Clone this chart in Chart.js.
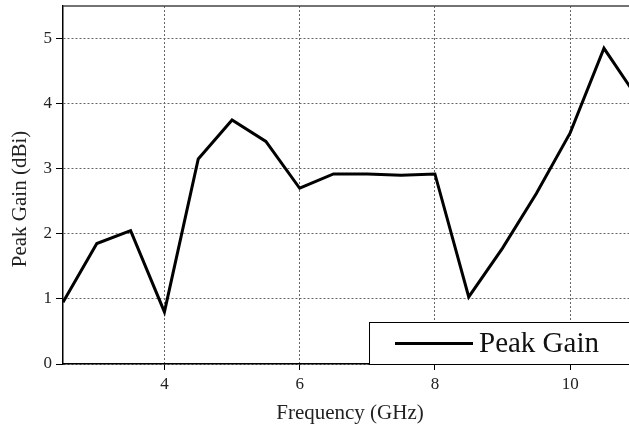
<!DOCTYPE html>
<html lang="en">
<head>
    <meta charset="UTF-8">
    <title>Peak Gain</title>
    <script src="https://cdn.jsdelivr.net/npm/chart.js@4.4.0/dist/chart.umd.min.js"></script>
    <style>
        html, body { margin: 0; padding: 0; background: #fff; }
        #wrap { width: 629px; height: 434px; }
    </style>
</head>
<body>
    <div id="wrap"><canvas id="gainChart" width="629" height="434"></canvas></div>

    <script>
        // measured peak gain, every 0.5 GHz
        var freqGHz = [2.5, 3, 3.5, 4, 4.5, 5, 5.5, 6, 6.5, 7, 7.5, 8, 8.5, 9, 9.5, 10, 10.5, 11];
        var peakGain = [0.95, 1.85, 2.05, 0.8, 3.15, 3.75, 3.42, 2.7, 2.92, 2.92, 2.9, 2.92, 1.03, 1.78, 2.62, 3.55, 4.85, 4.08];
        var xTicks = [4, 6, 8, 10];
        var yTicks = [0, 1, 2, 3, 4, 5];
        var xTitle = 'Frequency (GHz)';
        var yTitle = 'Peak Gain (dBi)';

        var serif = '"Liberation Serif", "Times New Roman", serif';

        // top frame line, axis titles and the boxed legend in the lower right
        var framePlugin = {
            id: 'frame',
            afterDraw: function(chart) {
                var ctx = chart.ctx, a = chart.chartArea;
                ctx.save();
                ctx.strokeStyle = '#444';
                ctx.lineWidth = 1.5;
                ctx.beginPath();
                ctx.moveTo(a.left, a.top);
                ctx.lineTo(a.right, a.top);
                ctx.stroke();

                ctx.fillStyle = '#222';
                ctx.font = '21px ' + serif;
                ctx.textAlign = 'center';
                ctx.textBaseline = 'middle';
                ctx.fillText(xTitle, 350, 413);
                ctx.save();
                ctx.translate(20, 199);
                ctx.rotate(-Math.PI / 2);
                ctx.fillText(yTitle, 0, 0);
                ctx.restore();

                var bx = 369.5, by = 322.5, bw = 262, bh = 42;
                ctx.fillStyle = '#fff';
                ctx.fillRect(bx, by, bw, bh);
                ctx.strokeStyle = '#000';
                ctx.lineWidth = 1;
                ctx.strokeRect(bx, by, bw, bh);
                ctx.lineWidth = 3;
                ctx.beginPath();
                ctx.moveTo(395, by + 21);
                ctx.lineTo(473, by + 21);
                ctx.stroke();
                ctx.fillStyle = '#111';
                ctx.font = '29px ' + serif;
                ctx.textAlign = 'left';
                ctx.fillText(chart.data.datasets[0].label, 479, by + 22);
                ctx.restore();
            }
        };

        new Chart(document.getElementById('gainChart'), {
            type: 'line',
            data: {
                datasets: [{
                    label: 'Peak Gain',
                    data: freqGHz.map(function(f, i) { return {x: f, y: peakGain[i]}; }),
                    borderColor: '#000',
                    borderWidth: 3,
                    pointRadius: 0,
                    tension: 0,
                    fill: false
                }]
            },
            options: {
                responsive: false,
                animation: false,
                layout: { padding: { top: 6, right: 0, left: 0, bottom: 0 } },
                plugins: { legend: { display: false }, tooltip: { enabled: false } },
                scales: {
                    x: {
                        type: 'linear',
                        min: 2.5,
                        max: 10.87,
                        afterBuildTicks: function(s) { s.ticks = xTicks.map(function(v) { return {value: v}; }); },
                        afterFit: function(s) { s.height = 70; s.paddingLeft = 0; s.paddingRight = 0; },
                        grid: {
                            color: '#666',
                            lineWidth: 1,
                            tickLength: 6,
                            tickColor: '#000',
                            tickBorderDash: []
                        },
                        border: { display: true, color: '#000', width: 1.5, dash: [2, 2] },
                        ticks: {
                            color: '#222',
                            font: { family: serif, size: 17 },
                            padding: 4,
                            maxRotation: 0
                        }
                    },
                    y: {
                        min: 0,
                        max: 5.5,
                        afterBuildTicks: function(s) { s.ticks = yTicks.map(function(v) { return {value: v}; }); },
                        afterFit: function(s) { s.width = 63; s.paddingTop = 0; s.paddingBottom = 0; },
                        grid: {
                            color: '#666',
                            lineWidth: 1,
                            tickLength: 7,
                            tickColor: '#000'
                        },
                        border: { display: true, color: '#000', width: 1.5, dash: [2, 2] },
                        ticks: {
                            color: '#222',
                            font: { family: serif, size: 17 },
                            padding: 4
                        }
                    }
                }
            },
            plugins: [framePlugin]
        });
    </script>
</body>
</html>
